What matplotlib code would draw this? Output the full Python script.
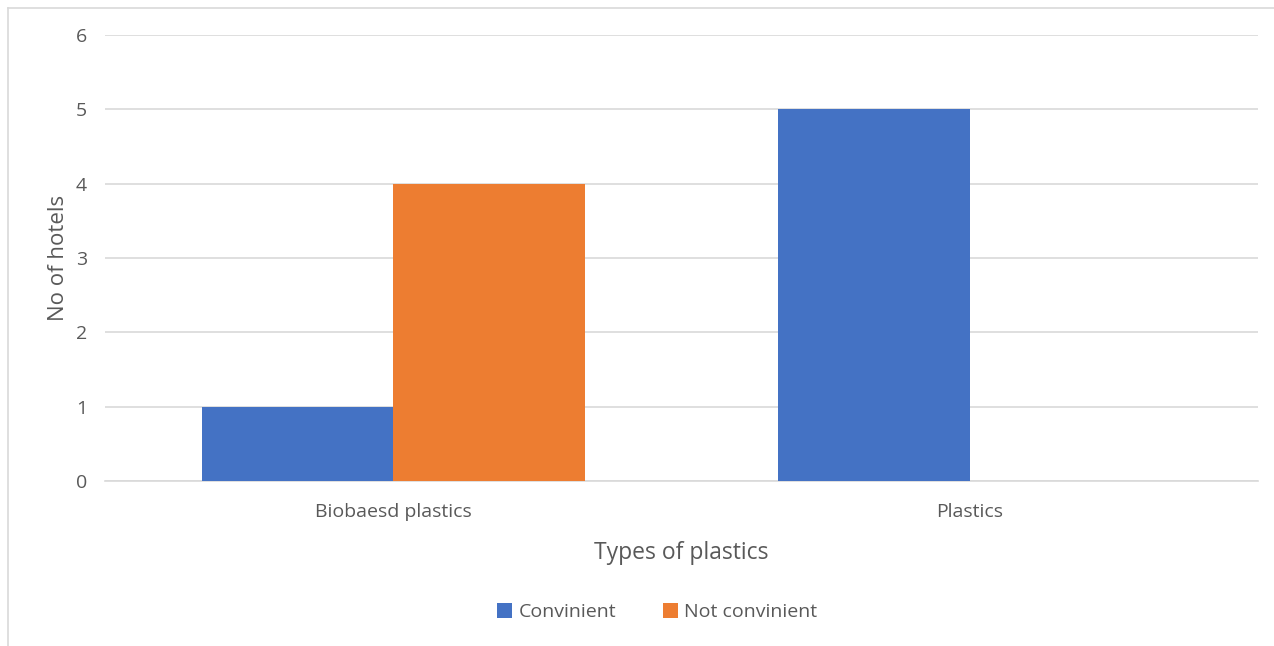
import matplotlib
matplotlib.use("Agg")
from matplotlib import pyplot as plt
from matplotlib.lines import Line2D
import numpy as np

categories = ['Biobaesd plastics', 'Plastics']
convinient = [1, 5]
not_convinient = [4, 0]

blue = '#4472C4'
orange = '#ED7D31'
grey_text = '#595959'

plt.rcParams['font.family'] = ['Open Sans', 'DejaVu Sans']

fig = plt.figure(figsize=(12.74, 6.46), dpi=100)
ax = fig.add_axes([105/1274, 1-481/646, (1258-105)/1274, (481-35)/646])

x = np.arange(len(categories))
w = 0.332
ax.bar(x - w/2, convinient, w, color=blue, label='Convinient', zorder=3)
ax.bar(x + w/2, not_convinient, w, color=orange, label='Not convinient', zorder=3)

ax.set_xlim(-0.5, 1.5)
ax.set_ylim(0, 6)
ax.set_yticks(range(0, 7))
ax.set_xticks(x)
ax.set_xticklabels(categories)
ax.grid(axis='y', color='#D9D9D9', linewidth=1.2, zorder=0)
for s in ['top', 'right', 'left']:
    ax.spines[s].set_visible(False)
ax.spines['bottom'].set_color('#D9D9D9')
ax.spines['bottom'].set_linewidth(1.2)
ax.tick_params(length=0, labelsize=14, labelcolor=grey_text)
ax.tick_params(axis='y', pad=13)
ax.tick_params(axis='x', pad=16)

ax.set_xlabel('Types of plastics', fontsize=16.5, color=grey_text, labelpad=14)
ax.set_ylabel('No of hotels', fontsize=16, color=grey_text, labelpad=5)

fig.legend(loc='center', bbox_to_anchor=(657/1274, 1-612/646), ncol=2, frameon=False,
           fontsize=14, labelcolor=grey_text, handlelength=0.8, handleheight=0.8,
           handletextpad=0.3, columnspacing=2.4)

# outer chart frame (only top and left visible)
fig.add_artist(Line2D([8/1274, 1], [1-8/646, 1-8/646], color='#D9D9D9', linewidth=1.2))
fig.add_artist(Line2D([8/1274, 8/1274], [0, 1-8/646], color='#D9D9D9', linewidth=1.2))

fig.savefig('out.png', dpi=100, facecolor='white')
